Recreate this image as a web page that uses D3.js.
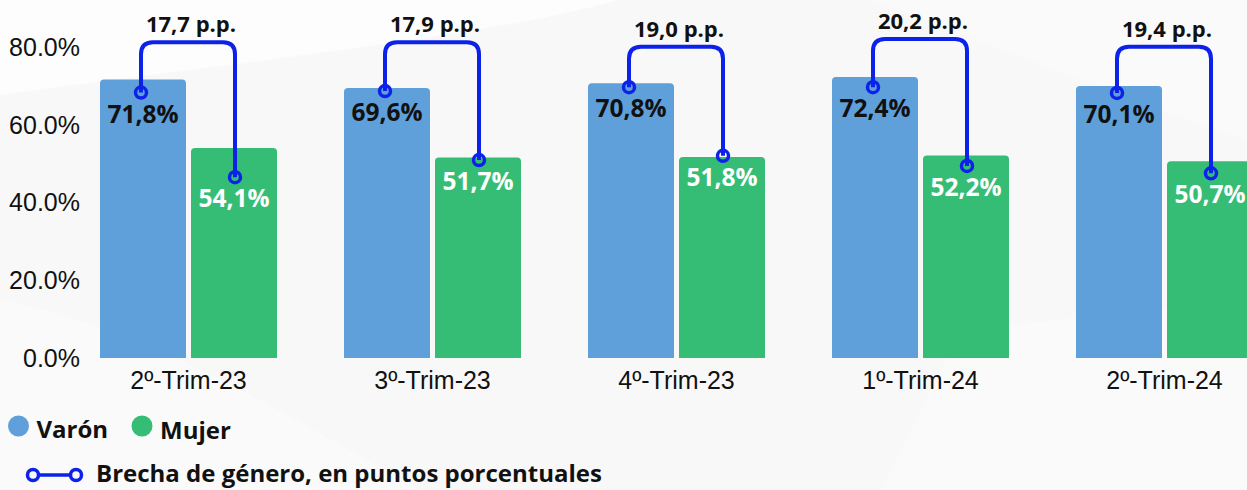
<!DOCTYPE html>
<html>
<head>
<meta charset="utf-8">
<script src="https://cdn.jsdelivr.net/npm/d3@7"></script>
<style>
  html, body { margin: 0; padding: 0; background: #f8f8f8; }
  svg { display: block; }
</style>
</head>
<body>
<svg width="1247" height="490"></svg>
<script>
// data
var categories = ["2º-Trim-23", "3º-Trim-23", "4º-Trim-23", "1º-Trim-24", "2º-Trim-24"];
var series = ["Varón", "Mujer"];
var varon = [71.8, 69.6, 70.8, 72.4, 70.1];
var mujer = [54.1, 51.7, 51.8, 52.2, 50.7];
var brecha = ["17,7", "17,9", "19,0", "20,2", "19,4"];
var yTicks = [0, 20, 40, 60, 80];
// levels (in %) where the gap bracket is anchored
var gapFrom = [68.4, 68.8, 69.8, 69.8, 68.3];
var gapTo = [46.6, 51.0, 52.1, 49.5, 47.6];
var gapTop = [81.4, 81.4, 80.2, 82.2, 80.2];

var colours = { "Varón": "#5fa0db", "Mujer": "#36bd75" };
var lineColour = "#0d22e8";

var svg = d3.select("svg"),
    width = +svg.attr("width"),
    height = +svg.attr("height");

// faint background shapes
var bg = svg.append("g");
bg.append("path")
  .attr("d", "M0,0 L620,0 C470,40 250,60 0,95 Z")
  .attr("fill", "#ffffff").attr("opacity", 0.7);
bg.append("path")
  .attr("d", "M0,300 C150,330 260,400 420,490 L0,490 Z")
  .attr("fill", "#ffffff").attr("opacity", 0.35);
bg.append("path")
  .attr("d", "M870,0 L1247,0 L1247,140 C1100,90 980,40 870,0 Z")
  .attr("fill", "#ffffff").attr("opacity", 0.35);
bg.append("path")
  .attr("d", "M880,490 L960,330 L1247,300 L1247,490 Z")
  .attr("fill", "#ffffff").attr("opacity", 0.3);

// scales
var x0 = d3.scaleBand()
    .domain(categories)
    .range([66.5, 1286.5])
    .paddingInner(0.2746)
    .paddingOuter(0.1373);

var x1 = d3.scaleBand()
    .domain(series)
    .range([0, x0.bandwidth()])
    .paddingInner(0.055);

var y = d3.scaleLinear()
    .domain([0, 80])
    .range([358, 47.6]);

// y axis
var yAxis = svg.append("g")
    .attr("transform", "translate(80,0)")
    .call(d3.axisLeft(y).tickValues(yTicks).tickSize(0).tickPadding(0)
      .tickFormat(function(d) { return d.toFixed(1) + "%"; }));
yAxis.select(".domain").remove();
yAxis.selectAll("text")
    .attr("font-family", "Liberation Sans, Arial, sans-serif")
    .attr("font-size", 25)
    .attr("fill", "#111");

// x axis
var xAxis = svg.append("g")
    .attr("transform", "translate(0,358)")
    .call(d3.axisBottom(x0).tickSize(0).tickPadding(13));
xAxis.select(".domain").remove();
xAxis.selectAll("text")
    .attr("font-family", "Liberation Sans, Arial, sans-serif")
    .attr("font-size", 25)
    .attr("fill", "#111");

// bars with rounded top corners
function topRounded(x, yTop, w, h, r) {
  return "M" + x + "," + (yTop + h) +
    " V" + (yTop + r) +
    " Q" + x + "," + yTop + " " + (x + r) + "," + yTop +
    " H" + (x + w - r) +
    " Q" + (x + w) + "," + yTop + " " + (x + w) + "," + (yTop + r) +
    " V" + (yTop + h) + " Z";
}

var rows = categories.map(function(c, i) {
  return { cat: c, "Varón": varon[i], "Mujer": mujer[i], i: i };
});

var groups = svg.append("g")
  .selectAll("g")
  .data(rows)
  .enter()
  .append("g")
    .attr("transform", function(d) { return "translate(" + x0(d.cat) + ",0)"; });

groups.selectAll("path")
  .data(function(d) { return series.map(function(s) { return { key: s, value: d[s] }; }); })
  .enter()
  .append("path")
    .attr("d", function(d) {
      return topRounded(x1(d.key), y(d.value), x1.bandwidth(), y(0) - y(d.value), 4);
    })
    .attr("fill", function(d) { return colours[d.key]; });

// gap brackets
var cx = function(cat, s) { return x0(cat) + x1(s) + x1.bandwidth() / 2; };
var rr = 12;

var gap = svg.append("g");
rows.forEach(function(d, i) {
  var xa = cx(d.cat, "Varón") - 2,
      xb = cx(d.cat, "Mujer") + 1,
      ya = y(gapFrom[i]),
      yb = y(gapTo[i]),
      yt = y(gapTop[i]);

  gap.append("path")
    .attr("d", "M" + xa + "," + ya +
      " V" + (yt + rr) +
      " Q" + xa + "," + yt + " " + (xa + rr) + "," + yt +
      " H" + (xb - rr) +
      " Q" + xb + "," + yt + " " + xb + "," + (yt + rr) +
      " V" + yb)
    .attr("fill", "none")
    .attr("stroke", lineColour)
    .attr("stroke-width", 4);

  [[xa, ya], [xb, yb]].forEach(function(p) {
    gap.append("circle")
      .attr("cx", p[0]).attr("cy", p[1]).attr("r", 5.5)
      .attr("fill", "none")
      .attr("stroke", lineColour)
      .attr("stroke-width", 3.5);
  });

  gap.append("text")
    .attr("x", (xa + xb) / 2 + 3)
    .attr("y", yt - 10)
    .attr("text-anchor", "middle")
    .attr("font-family", "Open Sans, sans-serif")
    .attr("font-weight", 700)
    .attr("font-size", 22)
    .attr("fill", "#111")
    .text(brecha[i] + " p.p.");

  // value labels
  gap.append("text")
    .attr("x", cx(d.cat, "Varón"))
    .attr("y", ya + 30)
    .attr("text-anchor", "middle")
    .attr("font-family", "Open Sans, sans-serif")
    .attr("font-weight", 700)
    .attr("font-size", 24.5)
    .attr("fill", "#111")
    .text(String(varon[i]).replace(".", ",") + "%");

  gap.append("text")
    .attr("x", cx(d.cat, "Mujer"))
    .attr("y", yb + 30)
    .attr("text-anchor", "middle")
    .attr("font-family", "Open Sans, sans-serif")
    .attr("font-weight", 700)
    .attr("font-size", 24.5)
    .attr("fill", "#ffffff")
    .text(String(mujer[i]).replace(".", ",") + "%");
});

// legend
var legend = svg.append("g");
var legendX = [18.5, 142];
series.forEach(function(s, i) {
  legend.append("circle")
    .attr("cx", legendX[i]).attr("cy", 426).attr("r", 10.5)
    .attr("fill", colours[s]);
  legend.append("text")
    .attr("x", legendX[i] + 18)
    .attr("y", 438 + i)
    .attr("font-family", "Open Sans, sans-serif")
    .attr("font-weight", 700)
    .attr("font-size", 24)
    .attr("fill", "#111")
    .text(s);
});

legend.append("line")
  .attr("x1", 33).attr("x2", 76).attr("y1", 475).attr("y2", 475)
  .attr("stroke", lineColour).attr("stroke-width", 3.5);
[33, 76].forEach(function(px) {
  legend.append("circle")
    .attr("cx", px).attr("cy", 475).attr("r", 5.5)
    .attr("fill", "#f8f8f8")
    .attr("stroke", lineColour).attr("stroke-width", 3.5);
});
legend.append("text")
  .attr("x", 96)
  .attr("y", 482)
  .attr("font-family", "Open Sans, sans-serif")
  .attr("font-weight", 700)
  .attr("font-size", 24)
  .attr("fill", "#111")
  .text("Brecha de género, en puntos porcentuales");
</script>
</body>
</html>
